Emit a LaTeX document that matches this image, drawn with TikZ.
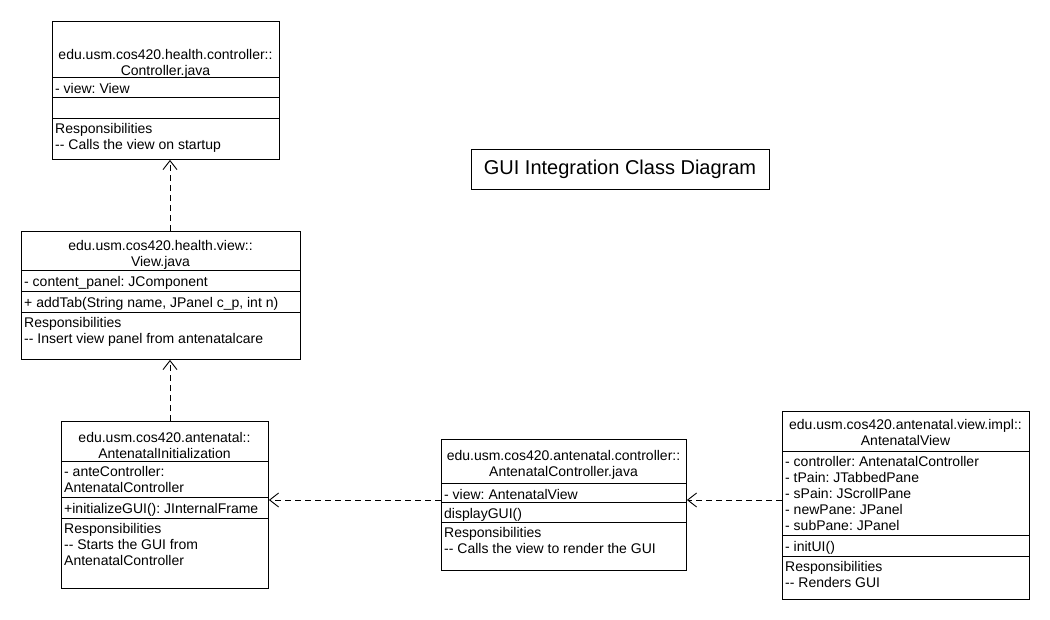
\documentclass[tikz,border=0pt]{standalone}
\usepackage{fontspec}
\setmainfont{Liberation Sans}
\frenchspacing
\usetikzlibrary{arrows.meta}

\begin{document}
\begin{tikzpicture}[x=1pt,y=-1pt,
    every node/.style={font=\fontsize{14}{16}\selectfont},
    box/.style={draw,line width=0.9pt,inner sep=0pt,anchor=north west},
    sep/.style={line width=0.9pt},
    ttl/.style={anchor=north,align=center,inner sep=0pt,execute at begin node=\strut},
    cmp/.style={anchor=north west,align=left,inner xsep=3pt,inner ysep=5.5pt,execute at begin node=\strut},
    dep/.style={line width=0.9pt,dash pattern=on 6pt off 4pt,-{Straight Barb[length=9pt,width=14pt,line width=0.9pt]}}]
  \useasboundingbox (0,0) rectangle (1050,620);
  % title
  \node[draw,line width=0.9pt,minimum width=298pt,minimum height=40pt,
        font=\fontsize{20}{24}\selectfont] (title) at (620,169) {GUI Integration Class Diagram};
  % Controller
  \node[box,minimum width=227pt,minimum height=138pt] (ctrl) at (52,21) {};
  \foreach \y in {77,97,118} \draw[sep] (ctrl.west |- 0,\y) -- (ctrl.east |- 0,\y);
  \node[ttl] (ctrl-t) at (165.5,49) {edu.usm.cos420.health.controller::\\Controller.java};
  \node[cmp] (ctrl-a) at (ctrl.west |- 0,77) {- view: View};
  \node[cmp] (ctrl-r) at (ctrl.west |- 0,118) {Responsibilities\\-{}- Calls the view on startup};
  % View
  \node[box,minimum width=279pt,minimum height=128pt] (view) at (21,231) {};
  \foreach \y in {270,291,312} \draw[sep] (view.west |- 0,\y) -- (view.east |- 0,\y);
  \node[ttl] (view-t) at (160.5,240) {edu.usm.cos420.health.view::\\View.java};
  \node[cmp] (view-a) at (view.west |- 0,270) {- content\_panel: JComponent};
  \node[cmp] (view-o) at (view.west |- 0,291) {+ addTab(String name, JPanel c\_p, int n)};
  \node[cmp] (view-r) at (view.west |- 0,312) {Responsibilities\\-{}- Insert view panel from antenatalcare};
  % AntenatalInitialization
  \node[box,minimum width=207pt,minimum height=167pt] (init) at (61,421) {};
  \foreach \y in {461,497,518} \draw[sep] (init.west |- 0,\y) -- (init.east |- 0,\y);
  \node[ttl] (init-t) at (164.5,432) {edu.usm.cos420.antenatal::\\AntenatalInitialization};
  \node[cmp] (init-a) at (init.west |- 0,461) {- anteController:\\AntenatalController};
  \node[cmp] (init-o) at (init.west |- 0,497) {+initializeGUI(): JInternalFrame};
  \node[cmp] (init-r) at (init.west |- 0,518) {Responsibilities\\-{}- Starts the GUI from\\AntenatalController};
  % AntenatalController
  \node[box,minimum width=245pt,minimum height=131pt] (actrl) at (441,439) {};
  \foreach \y in {483,502,522} \draw[sep] (actrl.west |- 0,\y) -- (actrl.east |- 0,\y);
  \node[ttl] (actrl-t) at (563.5,450) {edu.usm.cos420.antenatal.controller::\\AntenatalController.java};
  \node[cmp] (actrl-a) at (actrl.west |- 0,483) {- view: AntenatalView};
  \node[cmp] (actrl-o) at (actrl.west |- 0,502) {displayGUI()};
  \node[cmp] (actrl-r) at (actrl.west |- 0,522) {Responsibilities\\-{}- Calls the view to render the GUI};
  % AntenatalView
  \node[box,minimum width=247pt,minimum height=188pt] (aview) at (782,411) {};
  \foreach \y in {451,535,556} \draw[sep] (aview.west |- 0,\y) -- (aview.east |- 0,\y);
  \node[ttl] (aview-t) at (905.5,419) {edu.usm.cos420.antenatal.view.impl::\\AntenatalView};
  \node[cmp] (aview-a) at (aview.west |- 0,451) {- controller: AntenatalController\\- tPain: JTabbedPane\\%
    - sPain: JScrollPane\\- newPane: JPanel\\- subPane: JPanel};
  \node[cmp] (aview-o) at (aview.west |- 0,535) {- initUI()};
  \node[cmp] (aview-r) at (aview.west |- 0,556) {Responsibilities\\-{}- Renders GUI};
  % dependencies
  \draw[dep] (view.north -| 170,0) -- (ctrl.south -| 170,0);
  \draw[dep] (init.north -| 170,0) -- (view.south -| 170,0);
  \draw[dep] (actrl.west |- 0,500) -- (init.east |- 0,500);
  \draw[dep] (aview.west |- 0,500) -- (actrl.east |- 0,500);
\end{tikzpicture}
\end{document}
